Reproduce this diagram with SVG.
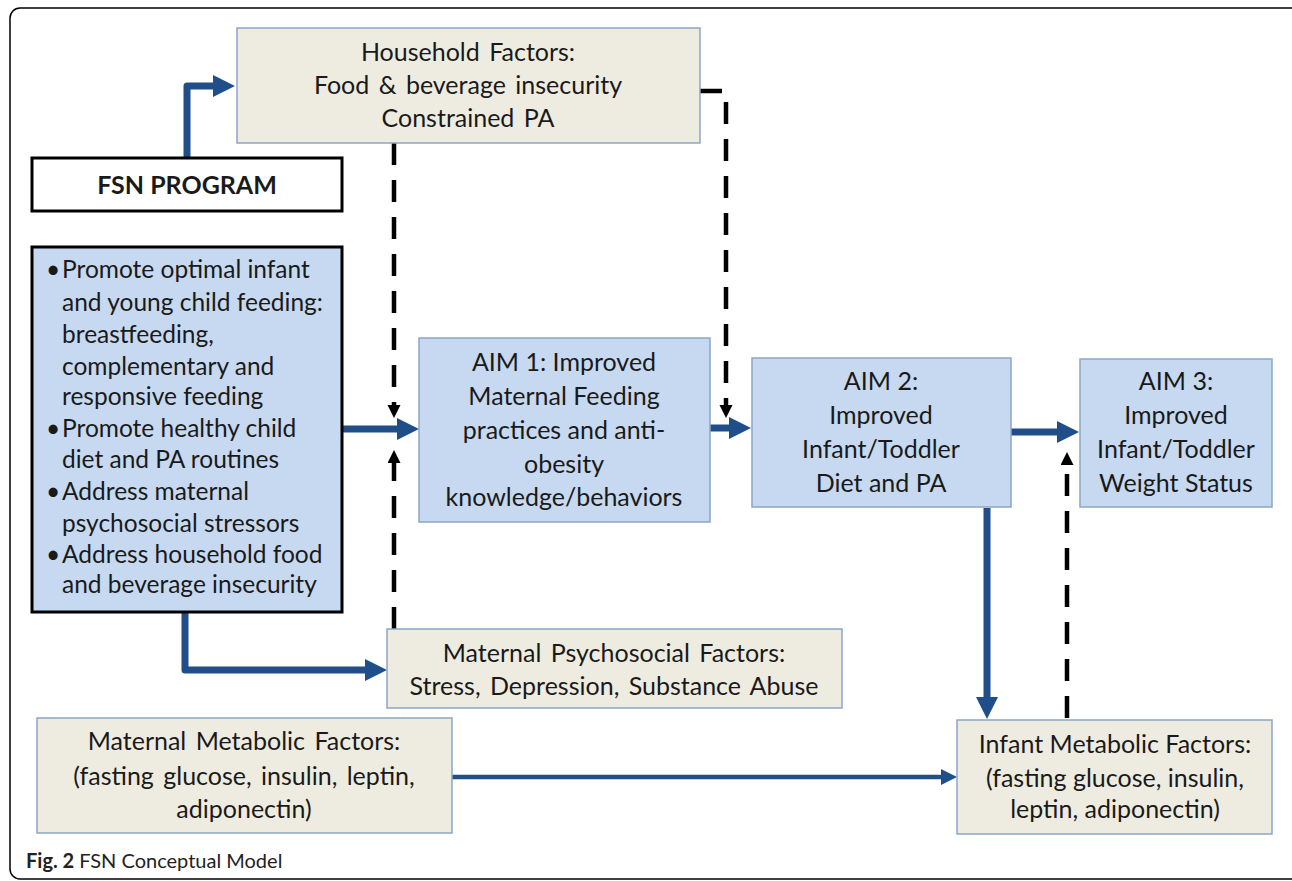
<svg xmlns="http://www.w3.org/2000/svg" width="1292" height="881" viewBox="0 0 1292 881">
<style>
.t{font-family:Lato,"Open Sans","Liberation Sans",sans-serif;font-size:25px;fill:#1a1a1a}
.l{font-size:24.5px}
.c{text-anchor:middle}
.blue{fill:#C6D9F1;stroke:#8CA6C6;stroke-width:1.5}
.tan{fill:#EEECE1;stroke:#8CA6C6;stroke-width:1.5}
.flow{fill:none;stroke:#1F4E89;stroke-width:7;stroke-linejoin:round}
.thin{fill:none;stroke:#1F4E89;stroke-width:4.5}
.dash{fill:none;stroke:#000;stroke-width:4.5;stroke-dasharray:22 15}
</style>
<defs>
<marker id="ab" markerUnits="userSpaceOnUse" markerWidth="24" markerHeight="24" refX="1" refY="11" orient="auto"><path d="M0,0 L22,11 L0,22 z" fill="#1F4E89"/></marker>
<marker id="as" markerUnits="userSpaceOnUse" markerWidth="18" markerHeight="18" refX="1" refY="8" orient="auto"><path d="M0,0 L16,8 L0,16 z" fill="#1F4E89"/></marker>
<marker id="ak" markerUnits="userSpaceOnUse" markerWidth="16" markerHeight="16" refX="0" refY="6.5" orient="auto"><path d="M0,0 L13,6.5 L0,13 z" fill="#000"/></marker>
</defs>
<rect x="0" y="0" width="1292" height="881" fill="#fff"/>
<rect x="10" y="8" width="1300" height="871" rx="10" fill="none" stroke="#000" stroke-width="1.5"/>

<g id="connectors">
<path class="flow" d="M187,158 V86 H214" marker-end="url(#ab)"/>
<path class="flow" d="M342,429 H398" marker-end="url(#ab)"/>
<path class="flow" d="M185,612 V670 H366" marker-end="url(#ab)"/>
<path class="flow" d="M710,428 H730" marker-end="url(#ab)"/>
<path class="flow" d="M1011,432 H1058" marker-end="url(#ab)"/>
<path class="flow" d="M987,508 V698" marker-end="url(#ab)"/>
<path class="thin" d="M452,777 H942" marker-end="url(#as)"/>
<path class="dash" d="M394,143 V405" marker-end="url(#ak)"/>
<path class="dash" d="M394,629 V463" marker-end="url(#ak)"/>
<path class="dash" d="M700,91 H726 V405" marker-end="url(#ak)"/>
<path class="dash" d="M1067,718 V465" marker-end="url(#ak)"/>
</g>

<g id="household">
<rect class="tan" x="237" y="28" width="463" height="115"/>
<text class="t c" x="468" y="61" word-spacing="3">Household Factors:</text>
<text class="t c" x="468" y="94" word-spacing="3">Food &amp; beverage insecurity</text>
<text class="t c" x="468" y="127" word-spacing="3">Constrained PA</text>
</g>

<g id="fsn-program">
<rect x="32" y="158" width="310" height="53" fill="#fff" stroke="#000" stroke-width="3"/>
<text class="t c" x="187" y="194" font-weight="bold" font-size="29">FSN PROGRAM</text>
</g>

<g id="program-components">
<rect x="32" y="247" width="310" height="365" fill="#C6D9F1" stroke="#000" stroke-width="3"/>
<g class="t l">
<text x="46" y="278">•</text><text x="62" y="278">Promote optimal infant</text>
<text x="62" y="311">and young child feeding:</text>
<text x="62" y="343">breastfeeding,</text>
<text x="62" y="375">complementary and</text>
<text x="62" y="405">responsive feeding</text>
<text x="46" y="437">•</text><text x="62" y="437">Promote healthy child</text>
<text x="62" y="468">diet and PA routines</text>
<text x="46" y="500">•</text><text x="62" y="500">Address maternal</text>
<text x="62" y="532">psychosocial stressors</text>
<text x="46" y="563">•</text><text x="62" y="563">Address household food</text>
<text x="62" y="593">and beverage insecurity</text>
</g>
</g>

<g id="aim1">
<rect class="blue" x="419" y="338" width="291" height="184"/>
<text class="t c" x="564" y="371">AIM 1: Improved</text>
<text class="t c" x="564" y="405">Maternal Feeding</text>
<text class="t c" x="564" y="439">practices and anti-</text>
<text class="t c" x="564" y="473">obesity</text>
<text class="t c" x="564" y="506">knowledge/behaviors</text>
</g>

<g id="aim2">
<rect class="blue" x="752" y="358" width="259" height="149"/>
<text class="t c" x="881" y="390">AIM 2:</text>
<text class="t c" x="881" y="424">Improved</text>
<text class="t c" x="881" y="458">Infant/Toddler</text>
<text class="t c" x="881" y="492">Diet and PA</text>
</g>

<g id="aim3">
<rect class="blue" x="1080" y="359" width="192" height="148"/>
<text class="t c" x="1176" y="390">AIM 3:</text>
<text class="t c" x="1176" y="424">Improved</text>
<text class="t c" x="1176" y="458">Infant/Toddler</text>
<text class="t c" x="1176" y="492">Weight Status</text>
</g>

<g id="maternal-psychosocial">
<rect class="tan" x="387" y="629" width="455" height="79"/>
<text class="t c" x="614" y="662" word-spacing="3">Maternal Psychosocial Factors:</text>
<text class="t c" x="614" y="695" word-spacing="3">Stress, Depression, Substance Abuse</text>
</g>

<g id="maternal-metabolic">
<rect class="tan" x="37" y="718" width="415" height="115"/>
<text class="t c" x="244" y="750" word-spacing="3">Maternal Metabolic Factors:</text>
<text class="t c" x="244" y="785" word-spacing="3">(fasting glucose, insulin, leptin,</text>
<text class="t c" x="244" y="818" word-spacing="3">adiponectin)</text>
</g>

<g id="infant-metabolic">
<rect class="tan" x="957" y="720" width="315" height="114"/>
<text class="t c" x="1115" y="753">Infant Metabolic Factors:</text>
<text class="t c" x="1115" y="787">(fasting glucose, insulin,</text>
<text class="t c" x="1115" y="818">leptin, adiponectin)</text>
</g>

<g id="caption">
<text x="26" y="868" font-family="Lato,'Open Sans','Liberation Sans',sans-serif" font-size="20" fill="#222"><tspan font-weight="bold">Fig. 2</tspan> FSN Conceptual Model</text>
</g>
</svg>
